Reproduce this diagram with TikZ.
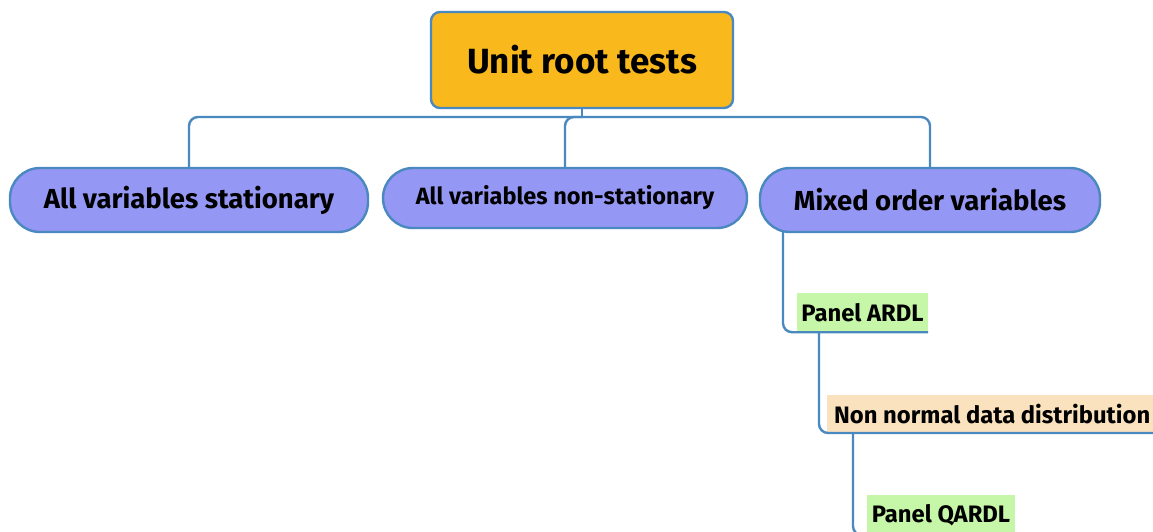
\documentclass[tikz,border=0pt]{standalone}
\usepackage{fontspec}
\setmainfont{Fira Sans}
\begin{document}
\begin{tikzpicture}[x=1pt,y=-1pt,
  line/.style={draw=linkblue,line width=2.4pt,rounded corners=9pt},
  topbox/.style={draw=linkblue,line width=2.4pt,fill=rootorange,rounded corners=9pt,
    minimum width=302pt,minimum height=96pt,inner sep=0pt,font=\bfseries\fontsize{35}{40}\selectfont},
  pill/.style={draw=linkblue,line width=2.4pt,fill=pillblue,rounded corners=30pt,
    inner sep=0pt,font=\bfseries\fontsize{27.5}{32}\selectfont},
  tag/.style={inner sep=0pt,font=\bfseries\fontsize{23.8}{27}\selectfont}]
\definecolor{linkblue}{HTML}{4A88C0}
\definecolor{rootorange}{HTML}{F9B91D}
\definecolor{pillblue}{HTML}{9597F4}
\definecolor{taggreen}{HTML}{C6F7A8}
\definecolor{tagbeige}{HTML}{FBE2BE}
\useasboundingbox (0,0) rectangle (1153,531);
\clip (0,0) rectangle (1153,531);

% main nodes
\node[topbox] (root) at (582,60) {Unit root tests};
\node[pill,minimum width=358pt,minimum height=64pt] (stat) at (189,200) {All variables stationary};
\node[pill,minimum width=364pt,minimum height=60pt,font=\bfseries\fontsize{23.5}{27}\selectfont] (nonstat) at (565,198) {All variables non-stationary};
\node[pill,minimum width=340pt,minimum height=64pt] (mixed) at (930,200) {Mixed order variables};

% branch labels
\node[tag,fill=taggreen,minimum width=131pt,minimum height=39pt] (ardl) at (862.5,312.5) {Panel ARDL};
\node[tag,fill=tagbeige,minimum width=330pt,minimum height=38pt,anchor=west] (nonnorm) at (827,414) {Non normal data distribution};
\node[tag,fill=taggreen,minimum width=148pt,minimum height=40pt] (qardl) at (941,515) {Panel QARDL};

% tree connectors
\coordinate (hub) at (582,117);
\draw[line] (root.south) -- (hub);
\draw[line] (hub) -| (stat.north);
\draw[line] (hub) -| (mixed.north);
\draw[line] (hub) -| (nonstat.north);

% underlined branches
\coordinate (m1) at (783,232);
\draw[line] (m1) |- (ardl.south east);
\coordinate (a1) at (819,332);
\coordinate (edge) at (1160,433);
\draw[line] (a1) |- (edge);
\coordinate (n1) at (853,433);
\draw[line] (n1) |- (qardl.south east);
\end{tikzpicture}
\end{document}
